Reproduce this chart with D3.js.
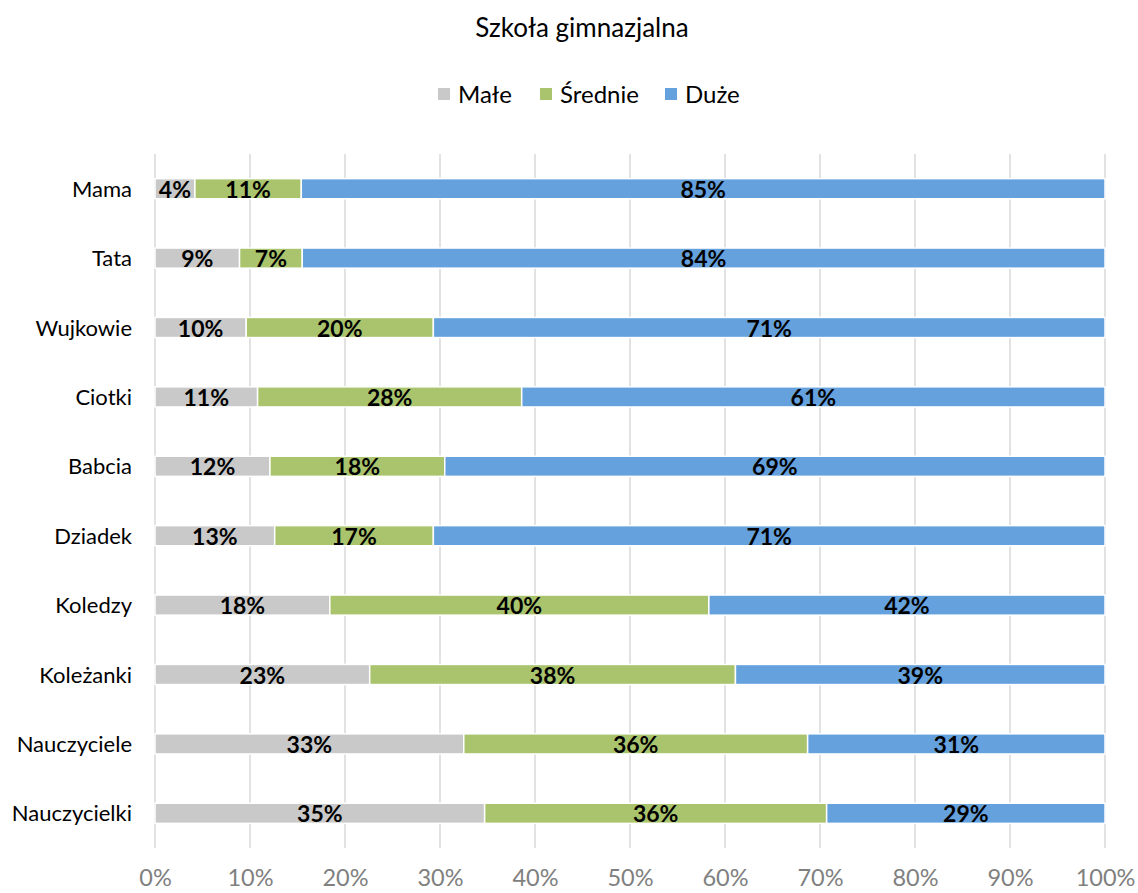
<!DOCTYPE html>
<html><head><meta charset="utf-8">
<script src="https://cdn.jsdelivr.net/npm/d3@7"></script>
<style>body{margin:0;background:#fff;} svg{display:block;font-family:Lato, "Open Sans", sans-serif;}</style>
</head><body>
<svg id="chart" width="1138" height="893"></svg>
<script>
const title = "Szkoła gimnazjalna";
const categories = ["Mama","Tata","Wujkowie","Ciotki","Babcia","Dziadek","Koledzy","Koleżanki","Nauczyciele","Nauczycielki"];
const seriesNames = ["Małe","Średnie","Duże"];
const seriesColors = ["#c9c9c9","#a9c46c","#64a1dd"];
const male    = [4.2, 8.9, 9.6, 10.8, 12.1, 12.6, 18.4, 22.6, 32.5, 34.7];
const srednie = [11.2, 6.6, 19.7, 27.8, 18.4, 16.7, 39.9, 38.5, 36.2, 36.0];
const duze    = [84.6, 84.5, 70.7, 61.4, 69.5, 70.7, 41.7, 38.9, 31.3, 29.3];
const labelsMale    = ["4%","9%","10%","11%","12%","13%","18%","23%","33%","35%"];
const labelsSrednie = ["11%","7%","20%","28%","18%","17%","40%","38%","36%","36%"];
const labelsDuze    = ["85%","84%","71%","61%","69%","71%","42%","39%","31%","29%"];
const xTicks = [0,10,20,30,40,50,60,70,80,90,100];

const svg = d3.select("#chart");
const mLeft = 155, mRight = 1105, mTop = 154, mBottom = 848;

const rows = categories.map((c,i)=>({cat:c, "Małe":male[i], "Średnie":srednie[i], "Duże":duze[i]}));
const labelSets = [labelsMale, labelsSrednie, labelsDuze];
const stack = d3.stack().keys(seriesNames).offset(d3.stackOffsetExpand);
const stacked = stack(rows);

const x = d3.scaleLinear().domain([0,1]).range([mLeft,mRight]);
const y = d3.scaleBand().domain(categories).range([mTop,mBottom]).paddingInner(0.71).paddingOuter(0.355);

// gridlines
svg.append("g").selectAll("line").data(xTicks).join("line")
  .attr("x1",d=>x(d/100)).attr("x2",d=>x(d/100))
  .attr("y1",mTop).attr("y2",mBottom)
  .attr("stroke","#d9d9d9").attr("stroke-width",1.5);

// bars
const g = svg.append("g");
stacked.forEach((s,si)=>{
  g.append("g").selectAll("rect").data(s).join("rect")
    .attr("x",d=>x(d[0])).attr("width",d=>x(d[1])-x(d[0]))
    .attr("y",(d,i)=>y(categories[i])).attr("height",y.bandwidth())
    .attr("fill",seriesColors[si]).attr("stroke","#fff").attr("stroke-width",1.5);
});
stacked.forEach((s,si)=>{
  g.append("g").selectAll("text").data(s).join("text")
    .attr("x",d=>(x(d[0])+x(d[1]))/2)
    .attr("y",(d,i)=>y(categories[i])+y.bandwidth()/2+9)
    .attr("text-anchor","middle")
    .attr("font-size","23px").attr("font-weight","bold").attr("fill","#000")
    .text((d,i)=>labelSets[si][i]);
});

// category labels
svg.append("g").selectAll("text").data(categories).join("text")
  .attr("x",132).attr("y",d=>y(d)+y.bandwidth()/2+8)
  .attr("text-anchor","end").attr("font-size","22px").attr("fill","#000")
  .text(d=>d);

// x axis
const xAxis = d3.axisBottom(x).tickValues(xTicks.map(v=>v/100)).tickFormat(d=>Math.round(d*100)+"%").tickSize(0).tickPadding(0);
const ax = svg.append("g").attr("transform",`translate(0,${mBottom})`).call(xAxis);
ax.select(".domain").remove();
ax.selectAll("text").attr("font-size","23.5px").attr("fill","#808080").attr("dy","0").attr("y",38).attr("font-family","Lato, sans-serif");

// title
svg.append("text").attr("x",582).attr("y",37).attr("text-anchor","middle")
  .attr("font-size","26px").attr("fill","#000").text(title);

// legend
const legendX = [438, 540, 665];
const lg = svg.append("g");
seriesNames.forEach((n,i)=>{
  lg.append("rect").attr("x",legendX[i]).attr("y",88).attr("width",12).attr("height",12).attr("fill",seriesColors[i]);
  lg.append("text").attr("x",legendX[i]+20).attr("y",103).attr("font-size","24px").attr("fill","#000").text(n);
});
</script>
</body></html>
